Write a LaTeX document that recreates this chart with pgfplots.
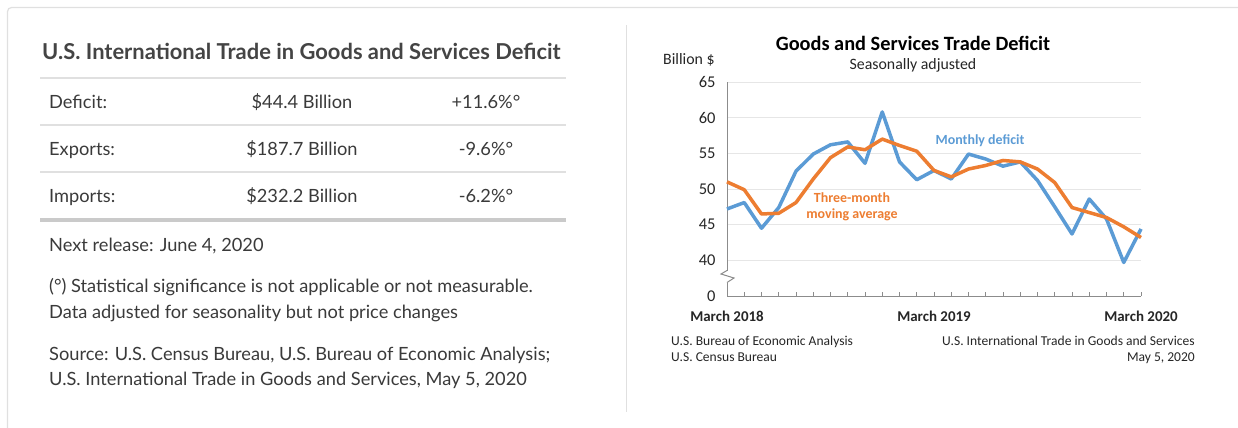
\documentclass[border=0pt]{standalone}
\usepackage{fontspec}
\usepackage{pgfplots}
\pgfplotsset{compat=1.18}
\setmainfont{Lato}
\newfontfamily\carl{Carlito}
\definecolor{txt}{HTML}{3A3A3A}
\definecolor{ttl}{HTML}{444444}
\definecolor{rule}{HTML}{E0E0E0}
\definecolor{blueL}{HTML}{5B9BD5}
\definecolor{orangeL}{HTML}{ED7D31}
\definecolor{gridc}{HTML}{E6E6E6}
\definecolor{axc}{HTML}{8C8C8C}
\newcommand{\fs}[1]{\fontsize{#1}{#1}\selectfont}
\begin{document}
\begin{tikzpicture}
\path[use as bounding box] (0bp,0bp) rectangle (1238bp,-428bp);
\fill[white] (0bp,0bp) rectangle (1238bp,-428bp);
% card border
\draw[rule, line width=1.2bp, rounded corners=4bp] (7.5bp,-7.5bp) rectangle (1260bp,-450bp);
\draw[rule, line width=1bp] (626bp,-25bp) -- (626bp,-412bp);
% left panel
\node[anchor=mid west, inner sep=0, text=ttl, font=\bfseries\fs{22}] at (42bp,-57bp) {U.S. International Trade in Goods and Services Deficit};
\draw[rule, line width=1.5bp] (40bp,-78bp) -- (566bp,-78bp);
\draw[rule, line width=1.5bp] (40bp,-125bp) -- (566bp,-125bp);
\draw[rule, line width=1.5bp] (40bp,-172bp) -- (566bp,-172bp);
\draw[rule!90!black, line width=3.5bp] (40bp,-220bp) -- (566bp,-220bp);
\begin{scope}[every node/.style={inner sep=0, text=txt, font=\fs{18.3}}]
\node[anchor=mid west] at (49bp,-106bp) {Deficit:};
\node[anchor=mid] at (302bp,-106bp) {\$44.4 Billion};
\node[anchor=mid] at (486bp,-106bp) {+11.6\%°};
\node[anchor=mid west] at (49bp,-153bp) {Exports:};
\node[anchor=mid] at (302bp,-153bp) {\$187.7 Billion};
\node[anchor=mid] at (486bp,-153bp) {-9.6\%°};
\node[anchor=mid west] at (49bp,-200bp) {Imports:};
\node[anchor=mid] at (302bp,-200bp) {\$232.2 Billion};
\node[anchor=mid] at (486bp,-200bp) {-6.2\%°};
\node[anchor=mid west] at (49bp,-249bp) {Next release: June 4, 2020};
\node[anchor=mid west] at (49bp,-290bp) {(°) Statistical significance is not applicable or not measurable.};
\node[anchor=mid west] at (49bp,-316bp) {Data adjusted for seasonality but not price changes};
\node[anchor=mid west] at (49bp,-358bp) {Source: U.S. Census Bureau, U.S. Bureau of Economic Analysis;};
\node[anchor=mid west] at (49bp,-383bp) {U.S. International Trade in Goods and Services, May 5, 2020};
\end{scope}
% right chart
\node[inner sep=0, font=\carl\bfseries\fs{20.4}, text=black] at (913bp,-43bp) {Goods and Services Trade Deficit};
\node[inner sep=0, font=\carl\fs{15.9}, text=black!85] at (913bp,-65bp) {Seasonally adjusted};
\node[inner sep=0, anchor=mid west, font=\carl\fs{15.9}, text=black!85] at (663bp,-62bp) {Billion \$};
\begin{axis}[
  at={(727bp,-296bp)}, anchor=south west,
  scale only axis, width=414bp, height=214bp,
  xmin=0, xmax=24, ymin=35, ymax=65,
  axis lines*=left,
  axis line style={draw=axc, line width=1bp},
  ytick={35,40,45,50,55,60,65},
  yticklabels={0,40,45,50,55,60,65},
  ymajorgrids, grid style={draw=gridc, line width=1bp},
  ytick style={draw=none},
  xtick={0,...,24},
  xticklabels={{March 2018},,,,,,,,,,,,{March 2019},,,,,,,,,,,,{March 2020}},
  xtick style={draw=axc, line width=0.8bp},
  tick align=inside, major tick length=4bp,
  /pgf/number format/assume math mode=true,
  yticklabel style={font=\carl\fs{16.5}, text=black!85, xshift=-8bp},
  xticklabel style={font=\carl\bfseries\fs{15}, text=black!85, yshift=-11bp},
  clip=false,
]
\addplot[blueL, line width=3.5bp, line join=round] coordinates {
(0,47.2) (1,48.1) (2,44.5) (3,47.4) (4,52.5) (5,54.9) (6,56.2) (7,56.6) (8,53.6) (9,60.8) (10,53.8) (11,51.3) (12,52.6) (13,51.4) (14,54.9) (15,54.2) (16,53.2) (17,53.8) (18,51.2) (19,47.5) (20,43.7) (21,48.6) (22,45.8) (23,39.7) (24,44.4)};
\addplot[orangeL, line width=3.5bp, line join=round] coordinates {
(0,51.0) (1,49.9) (2,46.5) (3,46.6) (4,48.1) (5,51.4) (6,54.4) (7,55.9) (8,55.5) (9,57.0) (10,56.1) (11,55.3) (12,52.6) (13,51.7) (14,52.8) (15,53.3) (16,54.0) (17,53.8) (18,52.8) (19,50.9) (20,47.4) (21,46.7) (22,46.0) (23,44.7) (24,43.2)};
\end{axis}
% axis break
\fill[white] (723bp,-270.5bp) rectangle (731bp,-282.5bp);
\draw[axc, line width=1bp] (727bp,-270.5bp) -- (721bp,-274bp) -- (734bp,-278bp) -- (727bp,-282.5bp);
% series labels
\node[inner sep=0, font=\carl\bfseries\fs{14}, text=blueL] at (980bp,-141bp) {Monthly deficit};
\node[inner sep=0, font=\carl\bfseries\fs{14}, text=orangeL] at (852bp,-198bp) {Three-month};
\node[inner sep=0, font=\carl\bfseries\fs{14}, text=orangeL] at (852bp,-215bp) {moving average};
% notes
\node[inner sep=0, anchor=mid west, font=\carl\fs{13.6}, text=black!85] at (671bp,-343bp) {U.S. Bureau of Economic Analysis};
\node[inner sep=0, anchor=mid west, font=\carl\fs{13.6}, text=black!85] at (671bp,-359bp) {U.S. Census Bureau};
\node[inner sep=0, anchor=mid east, font=\carl\fs{13.6}, text=black!85] at (1195bp,-343bp) {U.S. International Trade in Goods and Services};
\node[inner sep=0, anchor=mid east, font=\carl\fs{13.6}, text=black!85] at (1195bp,-359bp) {May 5, 2020};
\end{tikzpicture}
\end{document}
